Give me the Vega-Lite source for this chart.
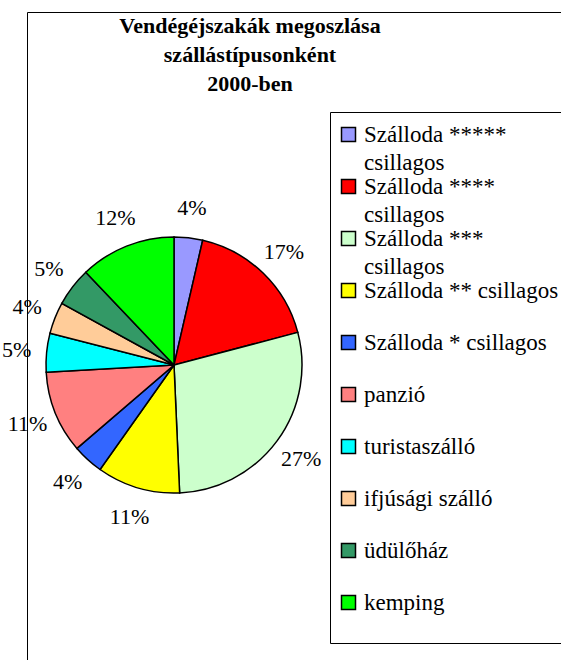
{
  "$schema": "https://vega.github.io/schema/vega-lite/v6.json",
  "width": 534,
  "height": 648,
  "autosize": {"type": "none"},
  "padding": {"left": 27, "top": 12, "right": 0, "bottom": 0},
  "background": "white",
  "title": {
    "text": ["Vendégéjszakák megoszlása", "szállástípusonként", "2000-ben"],
    "font": "Liberation Serif",
    "fontSize": 22,
    "fontWeight": "bold",
    "lineHeight": 29,
    "color": "black",
    "anchor": "middle",
    "frame": "group",
    "baseline": "top",
    "offset": 0,
    "dx": -44,
    "dy": 84
  },
  "data": {
    "values": [
      {"n": 1, "type": "Szálloda ***** csillagos", "share": 3.6, "label": "4%"},
      {"n": 2, "type": "Szálloda **** csillagos", "share": 17.3, "label": "17%"},
      {"n": 3, "type": "Szálloda *** csillagos", "share": 28.4, "label": "27%"},
      {"n": 4, "type": "Szálloda ** csillagos", "share": 10.5, "label": "11%"},
      {"n": 5, "type": "Szálloda * csillagos", "share": 3.9, "label": "4%"},
      {"n": 6, "type": "panzió", "share": 10.4, "label": "11%"},
      {"n": 7, "type": "turistaszálló", "share": 4.9, "label": "5%"},
      {"n": 8, "type": "ifjúsági szálló", "share": 4.0, "label": "4%"},
      {"n": 9, "type": "üdülőház", "share": 4.9, "label": "5%"},
      {"n": 10, "type": "kemping", "share": 12.1, "label": "12%"}
    ]
  },
  "encoding": {
    "theta": {"field": "share", "type": "quantitative", "stack": true},
    "order": {"field": "n", "type": "quantitative"}
  },
  "layer": [
    {
      "mark": {"type": "arc", "outerRadius": 128, "stroke": "black", "strokeWidth": 1.5, "x": 147, "y": 353},
      "encoding": {
        "color": {
          "field": "type",
          "type": "nominal",
          "scale": {
            "domain": ["Szálloda ***** csillagos", "Szálloda **** csillagos", "Szálloda *** csillagos", "Szálloda ** csillagos", "Szálloda * csillagos", "panzió", "turistaszálló", "ifjúsági szálló", "üdülőház", "kemping"],
            "range": ["#9999FF", "#FF0000", "#CCFFCC", "#FFFF00", "#3366FF", "#FF8080", "#00FFFF", "#FFCC99", "#339966", "#00FF00"]
          },
          "legend": {
            "title": " ",
            "titleOrient": "bottom",
            "titleFontSize": 12,
            "titlePadding": 6,
            "orient": "none",
            "legendX": 303,
            "legendY": 100,
            "padding": 11,
            "strokeColor": "black",
            "fillColor": "white",
            "symbolType": "square",
            "symbolSize": 196,
            "symbolOffset": -4,
            "symbolStrokeColor": "black",
            "symbolStrokeWidth": 1.5,
            "labelFont": "Liberation Serif",
            "labelFontSize": 23,
            "labelColor": "black",
            "labelLimit": 400,
            "labelOffset": 4,
            "rowPadding": 0,
            "gridAlign": "all",
            "labelExpr": "indexof(datum.label, '***') >= 0 ? [replace(datum.label, ' csillagos', ''), 'csillagos'] : datum.label",
            "encode": {"labels": {"update": {"lineHeight": {"value": 28.5}}}}
          }
        }
      }
    },
    {
      "mark": {"type": "text", "radius": 158, "x": 147, "y": 353, "font": "Liberation Serif", "fontSize": 22, "color": "black"},
      "encoding": {
        "text": {"field": "label", "type": "nominal"}
      }
    }
  ],
  "config": {
    "view": {"stroke": "black", "strokeWidth": 1},
    "style": {
      "view": {"stroke": "black", "strokeWidth": 1},
      "cell": {"stroke": "black", "strokeWidth": 1}
    }
  }
}
